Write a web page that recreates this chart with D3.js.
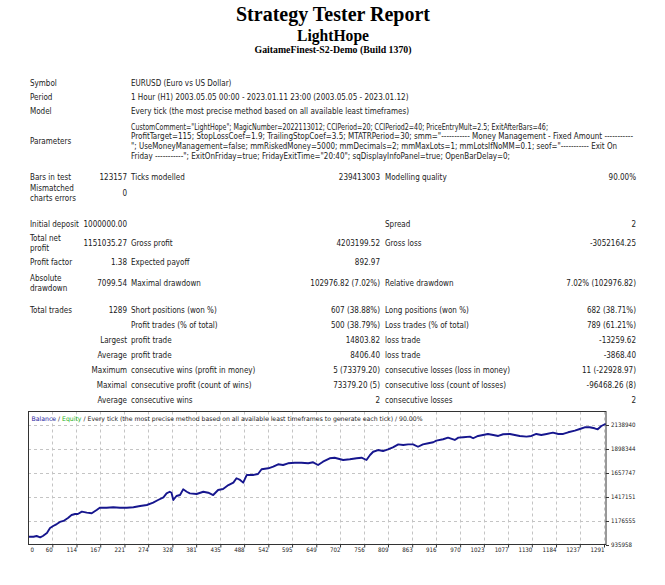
<!DOCTYPE html>
<html><head><meta charset="utf-8">
<script src="https://cdn.jsdelivr.net/npm/d3@7/dist/d3.min.js"></script>
<style>html,body{margin:0;padding:0;background:#fff}</style>
</head><body>
<svg id="c" width="665" height="585"></svg>
<script>
// ---------------- data ----------------
const titleLines = ["Strategy Tester Report", "LightHope", "GaitameFinest-S2-Demo (Build 1370)"];
const infoLabels = ["Symbol", "Period", "Model"];
const infoValues = [
  "EURUSD (Euro vs US Dollar)",
  "1 Hour (H1) 2003.05.05 00:00 - 2023.01.11 23:00 (2003.05.05 - 2023.01.12)",
  "Every tick (the most precise method based on all available least timeframes)"
];
const paramLabel = "Parameters";
const paramLines = [
  'CustomComment="LightHope"; MagicNumber=2022113012; CCIPeriod=20; CCIPeriod2=40; PriceEntryMult=2.5; ExitAfterBars=46;',
  'ProfitTarget=115; StopLossCoef=1.9; TrailingStopCoef=3.5; MTATRPeriod=30; smm="----------- Money Management - Fixed Amount -----------',
  '"; UseMoneyManagement=false; mmRiskedMoney=5000; mmDecimals=2; mmMaxLots=1; mmLotsIfNoMM=0.1; seof="----------- Exit On',
  'Friday -----------"; ExitOnFriday=true; FridayExitTime="20:40"; sqDisplayInfoPanel=true; OpenBarDelay=0;'
];
// each row: [label, value, label, value, label, value]
const statRows = [
  [["Bars in test"], "123157", "Ticks modelled", "239413003", "Modelling quality", "90.00%"],
  [["Mismatched", "charts errors"], "0", "", "", "", ""],
  [["Initial deposit"], "1000000.00", "", "", "Spread", "2"],
  [["Total net", "profit"], "1151035.27", "Gross profit", "4203199.52", "Gross loss", "-3052164.25"],
  [["Profit factor"], "1.38", "Expected payoff", "892.97", "", ""],
  [["Absolute", "drawdown"], "7099.54", "Maximal drawdown", "102976.82 (7.02%)", "Relative drawdown", "7.02% (102976.82)"],
  [["Total trades"], "1289", "Short positions (won %)", "607 (38.88%)", "Long positions (won %)", "682 (38.71%)"],
  [[""], "", "Profit trades (% of total)", "500 (38.79%)", "Loss trades (% of total)", "789 (61.21%)"],
  [[""], "Largest", "profit trade", "14803.82", "loss trade", "-13259.62"],
  [[""], "Average", "profit trade", "8406.40", "loss trade", "-3868.40"],
  [[""], "Maximum", "consecutive wins (profit in money)", "5 (73379.20)", "consecutive losses (loss in money)", "11 (-22928.97)"],
  [[""], "Maximal", "consecutive profit (count of wins)", "73379.20 (5)", "consecutive loss (count of losses)", "-96468.26 (8)"],
  [[""], "Average", "consecutive wins", "2", "consecutive losses", "2"]
];
const legendParts = ["Balance", " / ", "Equity", " / Every tick (the most precise method based on all available least timeframes to generate each tick) / 90.00%"];
const xTicks = [0, 60, 114, 167, 221, 274, 328, 381, 435, 488, 542, 595, 649, 702, 756, 809, 863, 916, 970, 1023, 1077, 1130, 1184, 1237, 1291];
const yTicks = [935958, 1176555, 1417151, 1657747, 1898344, 2138940];
const trades = [6, 18, 25, 33, 39, 48, 55, 62, 70, 77, 85, 95, 103, 111, 117, 126, 137, 148, 159, 166,
  181, 196, 211, 226, 241, 256, 271, 285, 296, 308, 315, 322, 326, 330, 337, 345, 352, 360, 367, 382,
  397, 408, 419, 430, 441, 453, 464, 471, 479, 486, 494, 508, 519, 527, 542, 553, 564, 575, 586, 601,
  616, 631, 642, 653, 664, 679, 690, 709, 724, 739, 750, 761, 769, 776, 787, 798, 809, 820, 832, 843,
  854, 865, 876, 887, 899, 910, 917, 932, 943, 958, 966, 977, 992, 999, 1010, 1021, 1032, 1044, 1055, 1066,
  1081, 1092, 1103, 1118, 1129, 1140, 1151, 1163, 1177, 1189, 1200, 1211, 1226, 1237, 1248, 1259, 1270, 1277, 1285, 1295];
const balance = [1019000, 1019000, 1026000, 1013000, 1026000, 1056000, 1106000, 1126000, 1146000, 1167000,
  1177000, 1207000, 1237000, 1247000, 1247000, 1270000, 1260000, 1254000, 1287000, 1310000,
  1310000, 1314000, 1310000, 1310000, 1314000, 1327000, 1337000, 1360000, 1387000, 1414000,
  1454000, 1470000, 1460000, 1387000, 1427000, 1437000, 1494000, 1470000, 1454000, 1447000,
  1470000, 1460000, 1437000, 1487000, 1497000, 1537000, 1561000, 1605000, 1588000, 1561000,
  1638000, 1638000, 1648000, 1695000, 1705000, 1721000, 1745000, 1738000, 1755000, 1761000,
  1761000, 1755000, 1765000, 1738000, 1771000, 1805000, 1811000, 1788000, 1795000, 1805000,
  1811000, 1788000, 1838000, 1871000, 1888000, 1878000, 1895000, 1915000, 1945000, 1938000,
  1945000, 1945000, 1921000, 1945000, 1956000, 1966000, 1982000, 1996000, 2012000, 1989000,
  2012000, 2016000, 2022000, 2006000, 2029000, 2039000, 2049000, 2039000, 2029000, 2046000,
  2049000, 2039000, 2029000, 2022000, 2029000, 2049000, 2039000, 2049000, 2062000, 2049000,
  2049000, 2066000, 2082000, 2099000, 2116000, 2116000, 2106000, 2096000, 2129000, 2151035];

// ---------------- drawing ----------------
const svg = d3.select("#c");
const SERIF = "'Liberation Serif','Times New Roman',serif";
const SANS = "'DejaVu Sans Condensed','DejaVu Sans','Liberation Sans',sans-serif";
const TXT = "#1a1a1a";

// titles
const titleY = [14, 35, 49.5], titleSize = [20, 16, 10.5], titleLen = [194, 72, 157];
titleLines.forEach((t, i) => {
  svg.append("text").attr("x", 333).attr("y", titleY[i]).attr("text-anchor", "middle")
    .attr("dominant-baseline", "central").attr("font-family", SERIF).attr("font-weight", "bold")
    .attr("font-size", titleSize[i]).attr("textLength", titleLen[i]).attr("lengthAdjust", "spacingAndGlyphs")
    .attr("fill", "#000").text(t);
});

const C1 = 30, C2 = 127, C3 = 131, C4 = 380, C5 = 385, C6 = 636;
const FS = 8;
function txt(x, y, s, anchor, opts) {
  const e = svg.append("text").attr("x", x).attr("y", y).attr("dominant-baseline", "central")
    .attr("text-anchor", anchor || "start").attr("font-family", SANS).attr("font-size", FS)
    .attr("fill", TXT).text(s);
  if (opts && opts.len) e.attr("textLength", opts.len).attr("lengthAdjust", "spacingAndGlyphs");
  return e;
}

const infoY = [83.5, 97.5, 111.5];
infoLabels.forEach((l, i) => { txt(C1, infoY[i], l); txt(C3, infoY[i], infoValues[i]); });

const paramY = [127, 136.8, 146.6, 156.4], paramLen = [417, 502, 486, 379];
txt(C1, 141.7, paramLabel);
paramLines.forEach((p, i) => txt(C3, paramY[i], p, "start", { len: paramLen[i] }));

const rowY = [177.3, 193, 224, 243.3, 262.7, 283.3, 310, 325, 340, 355, 370, 385, 400];
statRows.forEach((r, i) => {
  const y = rowY[i];
  const lab = r[0];
  if (lab.length === 1) txt(C1, y, lab[0]);
  else { txt(C1, y - 5, lab[0]); txt(C1, y + 5, lab[1]); }
  txt(C2, y, r[1], "end");
  txt(C3, y, r[2]);
  txt(C4, y, r[3], "end");
  txt(C5, y, r[4]);
  txt(C6, y, r[5], "end");
});

// chart
const L = 28, R = 606, T = 411.5, B = 544.5;
const x = d3.scaleLinear().domain([0, 1291]).range([25.4, 604]);
const y = d3.scaleLinear().domain([935958, 2138940]).range([545, 425]);

const g = svg.append("g");
g.append("rect").attr("x", L).attr("y", T).attr("width", R - L).attr("height", B - T).attr("fill", "#fff");

// grid
g.selectAll(".vg").data(xTicks.filter(t => x(t) > L + 1)).enter().append("line")
  .attr("x1", d => Math.round(x(d)) + 0.5).attr("x2", d => Math.round(x(d)) + 0.5)
  .attr("y1", T).attr("y2", B).attr("stroke", "#c4c4c4").attr("stroke-dasharray", "3,3").attr("stroke-width", 1);
g.selectAll(".hg").data(yTicks.slice(1)).enter().append("line")
  .attr("y1", d => Math.round(y(d)) + 0.5).attr("y2", d => Math.round(y(d)) + 0.5)
  .attr("x1", L).attr("x2", R).attr("stroke", "#c4c4c4").attr("stroke-dasharray", "3,3").attr("stroke-width", 1);

// balance line
svg.append("clipPath").attr("id", "clip").append("rect").attr("x", L).attr("y", T).attr("width", R - L).attr("height", B - T);
const pts = trades.map((t, i) => [t, balance[i]]);
g.append("path").datum(pts).attr("clip-path", "url(#clip)")
  .attr("d", d3.line().x(d => x(d[0])).y(d => y(d[1])))
  .attr("fill", "none").attr("stroke", "#16168e").attr("stroke-width", 1.9).attr("stroke-linejoin", "round");

// border
g.append("rect").attr("x", L + 0.5).attr("y", T).attr("width", R - L - 0.5).attr("height", B - T)
  .attr("fill", "none").attr("stroke", "#333").attr("stroke-width", 1);

// x axis ticks and labels
const AFS = 6.1;
const xa = svg.append("g").attr("transform", `translate(0,${B})`);
xa.call(d3.axisBottom(x).tickValues(xTicks).tickSize(3).tickFormat(d3.format("d")));
xa.select(".domain").remove();
xa.selectAll(".tick line").attr("stroke", "#333");
xa.selectAll(".tick").filter(d => x(d) < L).select("line").remove();
xa.selectAll(".tick text").attr("text-anchor", "end").attr("font-family", SANS).attr("font-size", AFS)
  .attr("fill", TXT).attr("y", 3).attr("dy", "0.71em")
  .attr("x", function(d) { return Math.max(0, L + 5.5 - x(d)); });

// y axis ticks and labels
const ya = svg.append("g").attr("transform", `translate(${R},0)`);
ya.call(d3.axisRight(y).tickValues(yTicks).tickSize(3).tickFormat(d3.format("d")));
ya.select(".domain").remove();
ya.selectAll(".tick line").attr("stroke", "#333");
ya.selectAll(".tick text").attr("font-family", SANS).attr("font-size", AFS).attr("fill", TXT).attr("x", 5);

// legend
const lg = svg.append("text").attr("x", 31.5).attr("y", 417.5).attr("dominant-baseline", "central")
  .attr("font-family", SANS).attr("font-size", 6.3).attr("textLength", 391).attr("lengthAdjust", "spacingAndGlyphs");
const legendColors = ["#1a1aa0", TXT, "#22b022", TXT];
legendParts.forEach((p, i) => lg.append("tspan").attr("fill", legendColors[i]).text(p));
</script>
</body></html>
